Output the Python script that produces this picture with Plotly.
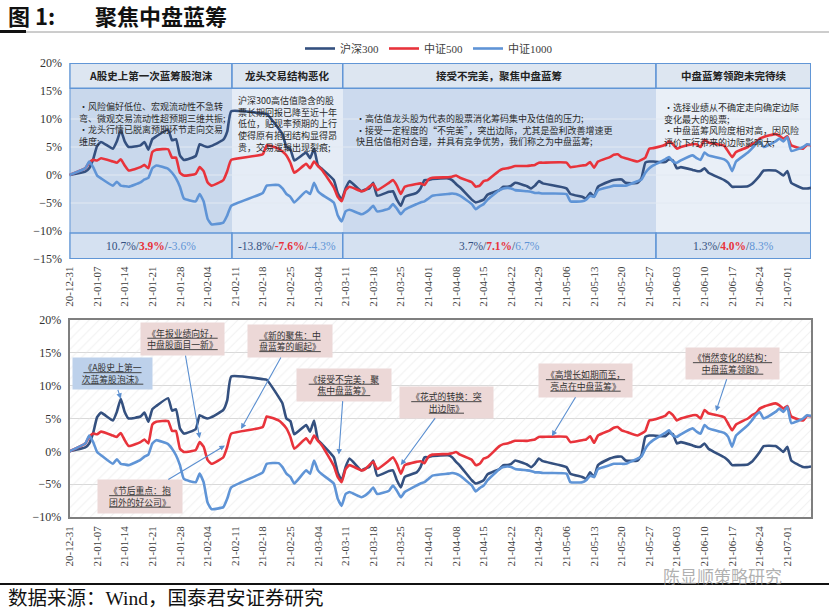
import pandas as pd
import plotly.graph_objects as go

W, H = 829, 611

# ---------------- data ----------------
dates = [
    "2020-12-31",
    "2021-01-04", "2021-01-05", "2021-01-06", "2021-01-07", "2021-01-08",
    "2021-01-11", "2021-01-12", "2021-01-13", "2021-01-14", "2021-01-15",
    "2021-01-18", "2021-01-19", "2021-01-20", "2021-01-21", "2021-01-22",
    "2021-01-25", "2021-01-26", "2021-01-27", "2021-01-28", "2021-01-29",
    "2021-02-01", "2021-02-02", "2021-02-03", "2021-02-04", "2021-02-05",
    "2021-02-08", "2021-02-09", "2021-02-10",
    "2021-02-18", "2021-02-19",
    "2021-02-22", "2021-02-23", "2021-02-24", "2021-02-25", "2021-02-26",
    "2021-03-01", "2021-03-02", "2021-03-03", "2021-03-04", "2021-03-05",
    "2021-03-08", "2021-03-09", "2021-03-10", "2021-03-11", "2021-03-12",
    "2021-03-15", "2021-03-16", "2021-03-17", "2021-03-18", "2021-03-19",
    "2021-03-22", "2021-03-23", "2021-03-24", "2021-03-25", "2021-03-26",
    "2021-03-29", "2021-03-30", "2021-03-31", "2021-04-01", "2021-04-02",
    "2021-04-06", "2021-04-07", "2021-04-08", "2021-04-09",
    "2021-04-12", "2021-04-13", "2021-04-14", "2021-04-15", "2021-04-16",
    "2021-04-19", "2021-04-20", "2021-04-21", "2021-04-22", "2021-04-23",
    "2021-04-26", "2021-04-27", "2021-04-28", "2021-04-29", "2021-04-30",
    "2021-05-06", "2021-05-07",
    "2021-05-10", "2021-05-11", "2021-05-12", "2021-05-13", "2021-05-14",
    "2021-05-17", "2021-05-18", "2021-05-19", "2021-05-20", "2021-05-21",
    "2021-05-24", "2021-05-25", "2021-05-26", "2021-05-27", "2021-05-28",
    "2021-05-31", "2021-06-01", "2021-06-02", "2021-06-03", "2021-06-04",
    "2021-06-07", "2021-06-08", "2021-06-09", "2021-06-10", "2021-06-11",
    "2021-06-15", "2021-06-16", "2021-06-17", "2021-06-18",
    "2021-06-21", "2021-06-22", "2021-06-23", "2021-06-24", "2021-06-25",
    "2021-06-28", "2021-06-29", "2021-06-30", "2021-07-01", "2021-07-02",
    "2021-07-05", "2021-07-06", "2021-07-07",
]

hs300 = [
    0.0,
    0.6, 1.2, 2.8, 5.2, 5.9,
    4.7, 6.0, 8.0, 6.0, 5.0,
    5.3, 5.9, 4.5, 6.4, 6.9,
    8.1, 6.2, 6.4, 3.5, 2.7,
    3.4, 5.5, 5.2, 5.0, 5.2,
    6.3, 7.8, 11.4,
    11.0, 10.9,
    8.3, 7.3, 5.0, 4.6, 2.6,
    4.0, 3.0, 4.7, 1.7, 1.1,
    -0.9, -3.2, -4.4, -2.4, -1.1,
    -2.9, -2.6, -2.4, -1.4, -3.7,
    -3.0, -2.9, -4.4, -5.5, -3.9,
    -3.2, -2.4, -0.9, -0.9, -0.7,
    -0.6, -0.9, -1.6, -2.2,
    -4.4, -4.9, -4.7, -4.4, -3.5,
    -2.7, -2.1, -2.1, -1.9, -1.4,
    -2.0, -2.4, -1.9, -1.1, -1.5,
    -2.4, -3.4,
    -3.9, -4.2, -3.2, -3.9, -2.1,
    -1.1, -0.9, -0.8, -0.8, -1.4,
    -1.4, -0.6, 2.2, 2.4, 2.4,
    2.3, 2.8, 2.6, 1.2, 1.4,
    0.9, 0.7, 0.7, 1.2, 0.4,
    -0.9, -1.4, -2.1, -2.1,
    -2.0, -1.6, -0.9, -0.1, 0.8,
    0.8, 0.4, -0.1, 0.7, -1.4,
    -2.4, -2.4, -2.3,
]

zz500 = [
    0.0,
    1.2, 2.2, 2.7, 2.6, 3.0,
    2.4, 2.2, 2.8, 1.7, 0.8,
    1.4, 1.8, 1.2, 4.1, 4.5,
    4.6, 3.1, 3.1, 0.4, -0.1,
    0.2, 1.4, 0.7, -1.3, -1.9,
    -0.9, 0.7, 2.7,
    3.7, 5.3,
    4.7, 4.2, 3.5, 2.2, 0.4,
    2.0, 1.2, 2.4, 1.6, 0.9,
    -2.2, -3.9, -4.7, -2.7, -2.1,
    -2.9, -2.7, -2.1, -1.6, -2.7,
    -1.4, -0.9, -1.9, -3.4, -2.1,
    -1.6, -1.5, -1.8, -0.8, -0.5,
    -0.4, -0.3, -0.1, -0.5,
    -1.3, -2.1, -1.9, -1.1, -0.9,
    0.8, 1.1, 1.2, 1.4, 1.6,
    1.6, 1.7, 1.8, 2.2, 2.2,
    2.2, 1.4,
    1.7, 1.8, 2.3, 1.3, 2.4,
    3.2, 3.6, 3.7, 3.2, 3.0,
    2.4, 2.7, 3.1, 4.7, 4.8,
    5.4, 6.0, 5.5, 4.7, 5.0,
    5.5, 5.5, 5.0, 6.3, 5.8,
    5.2, 4.2, 3.2, 4.1,
    5.0, 5.5, 5.8, 6.5, 6.8,
    7.3, 7.0, 6.5, 6.9, 5.3,
    4.7, 5.4, 5.3,
]

zz1000 = [
    0.0,
    1.2, 2.4, 1.4, -0.1, -0.6,
    -1.9, -1.2, -1.9, -2.0, -2.1,
    -1.3, -0.8, -0.5, 1.2, 1.7,
    1.1, 0.4, -0.6, -2.1, -4.2,
    -4.7, -3.4, -4.7, -7.8, -8.8,
    -8.5, -7.2, -5.5,
    -3.2, -1.9,
    -1.8, -2.4, -3.4, -3.9, -4.9,
    -2.9, -3.4, -1.4, -2.9, -3.5,
    -4.9, -7.2, -8.3, -6.5, -6.2,
    -7.0, -6.7, -6.2, -5.5, -6.5,
    -6.0, -5.2, -6.0, -7.0, -6.2,
    -5.2, -4.9, -4.7, -4.2, -3.7,
    -3.4, -3.3, -3.4, -3.7,
    -5.2, -6.1, -5.6, -5.2, -4.4,
    -2.7, -2.4, -2.3, -2.4, -2.7,
    -2.9, -3.0, -3.2, -3.2, -3.3,
    -3.4, -4.7,
    -4.7, -4.4, -3.7, -3.9, -2.7,
    -2.1, -1.9, -1.9, -1.9, -1.9,
    -1.1, -0.8, 0.4, 1.2, 1.7,
    2.8, 3.2, 2.4, 2.2, 2.6,
    3.5, 3.0, 2.7, 4.0, 3.5,
    2.8, 2.2, 0.7, 2.4,
    4.0, 4.7, 5.5, 6.0, 5.0,
    6.0, 6.5, 6.0, 6.8, 4.3,
    5.0, 5.5, 5.4,
]

series_names = ["沪深300", "中证500", "中证1000"]
series_values = [hs300, zz500, zz1000]

tick_labels = [
    "20-12-31", "21-01-07", "21-01-14", "21-01-21", "21-01-28", "21-02-04",
    "21-02-11", "21-02-18", "21-02-25", "21-03-04", "21-03-11", "21-03-18",
    "21-03-25", "21-04-01", "21-04-08", "21-04-15", "21-04-22", "21-04-29",
    "21-05-06", "21-05-13", "21-05-20", "21-05-27", "21-06-03", "21-06-10",
    "21-06-17", "21-06-24", "21-07-01",
]
tick_vals = ["20" + t for t in tick_labels]

phase_titles = ["A股史上第一次蓝筹股泡沫", "龙头交易结构恶化",
                "接受不完美，聚焦中盘蓝筹", "中盘蓝筹领跑未完待续"]
phase_starts = ["2020-12-31", "2021-02-10 05:00", "2021-03-10 07:00", "2021-05-28 17:00"]
phase_end = "2021-07-07"
phase_returns = [[10.7, 3.9, -3.6], [-13.8, -7.6, -4.3], [3.7, 7.1, 6.7], [1.3, 4.0, 8.3]]
phase_notes = [
    "•风险偏好低位、宏观流动性不急转<br>弯、微观交易流动性超预期三维共振;<br>•龙头行情已脱离预期环节走向交易<br>维度;",
    "沪深300高估值隐含的股<br>票长期回报已降至近十年<br>低位，贴现率预期的上行<br>使得原有抱团结构显得昂<br>贵，交易逻辑出现裂痕;",
    "•高估值龙头股为代表的股票消化筹码集中及估值的压力;<br>•接受一定程度的“不完美”，突出边际，尤其是盈利改善增速更<br>快且估值相对合理，并具有竞争优势，我们称之为中盘蓝筹;",
    "•选择业绩从不确定走向确定边际<br>变化最大的股票;<br>•中盘蓝筹风险度相对高，因风险<br>评价下行带来的边际影响大;",
]

callout_texts = [
    "《A股史上第一<br>次蓝筹股泡沫》",
    "《年报业绩向好，<br>中盘股面目一新》",
    "《新的聚焦：中<br>盘蓝筹的崛起》",
    "《接受不完美，聚<br>焦中盘蓝筹》",
    "《节后重点：抱<br>团外的好公司》",
    "《花式的转换：突<br>出边际》",
    "《高增长如期而至，<br>亮点在中盘蓝筹》",
    "《悄然变化的结构：<br>中盘蓝筹领跑》",
]
callout_dates = ["2021-01-13", "2021-02-02", "2021-02-12 12:00", "2021-03-09 07:00",
                 "2021-02-08 10:00", "2021-03-25", "2021-05-02 07:00", "2021-06-12 22:00"]
callout_values = [8.0, 2.0, 3.4, -0.5, 0.9, -2.1, 2.3, 6.1]

# ---------------- styles / layout positions ----------------
COLORS = ["#34507f", "#e8333b", "#5f94d6"]
BORDER = "#6196d6"
SERIF = "Liberation Serif, Noto Sans CJK SC, serif"
CJK = "Noto Sans CJK SC, Liberation Serif, sans-serif"
phase_fill = ["#c9d8ec", "#e5ecf6", "#ccdaee", "#e9eff7"]
callout_bg = ["#bdd1eb", "#ecd8d7", "#ecd8d7", "#ecd8d7", "#ecd8d7", "#ecd8d7", "#ecd8d7", "#ecd8d7"]
callout_off = [(-8, -25), (-17, -99), (49, -88), (5, -70), (-85, 51), (46, -63), (34, -56), (16, -48)]
callout_size = [(79, 31), (83, 32), (84, 32), (94, 32), (84, 33), (93, 31), (93, 33), (93, 31)]


def px(xp):
    return xp / W


def py(yp):
    return 1 - yp / H


XD = [px(69.5), px(811)]
TOP_DOM = [py(259), py(63)]
BOT_DOM = [py(517), py(320)]
TOP_RANGE = [-15, 20]
BOT_RANGE = [-10, 20]
HEAD_Y = 15.5
FOOT_Y = -10.35

fig = go.Figure()

# hatched background of the lower chart
fig.add_trace(go.Scatter(
    x=[dates[0], phase_end, phase_end, dates[0], dates[0]],
    y=[BOT_RANGE[0], BOT_RANGE[0], BOT_RANGE[1], BOT_RANGE[1], BOT_RANGE[0]],
    xaxis="x2", yaxis="y2", mode="lines", line=dict(width=0),
    fill="toself", fillcolor="rgba(0,0,0,0)",
    fillpattern=dict(shape="/", fgcolor="#e3e3e3", size=7, solidity=0.15),
    hoverinfo="skip", showlegend=False,
))

for name, vals, col in zip(series_names, series_values, COLORS):
    fig.add_trace(go.Scatter(
        x=dates, y=vals, name=name, mode="lines",
        line=dict(color=col, width=2.6, shape="spline", smoothing=0.4),
        xaxis="x", yaxis="y", showlegend=True, hoverinfo="skip",
    ))
for name, vals, col in zip(series_names, series_values, COLORS):
    fig.add_trace(go.Scatter(
        x=dates, y=vals, name=name, mode="lines",
        line=dict(color=col, width=2.6, shape="spline", smoothing=0.4),
        xaxis="x2", yaxis="y2", showlegend=False, hoverinfo="skip",
    ))

shapes = []
ends = phase_starts[1:] + [phase_end]
for i in range(4):
    x0, x1 = phase_starts[i], ends[i]
    shapes.append(dict(type="rect", xref="x", yref="y", x0=x0, x1=x1, y0=FOOT_Y, y1=HEAD_Y,
                       fillcolor=phase_fill[i], line=dict(width=0), layer="below"))
for v in [10, 5, 0, -5]:
    shapes.append(dict(type="line", xref="x", yref="y", x0=dates[0], x1=phase_end, y0=v, y1=v,
                       line=dict(color="#e2e9f2", width=1), layer="below"))
for i in range(4):
    x0, x1 = phase_starts[i], ends[i]
    shapes.append(dict(type="rect", xref="x", yref="y", x0=x0, x1=x1, y0=HEAD_Y, y1=TOP_RANGE[1],
                       fillcolor="#dde6f1", line=dict(color=BORDER, width=1.5), layer="below"))
    shapes.append(dict(type="rect", xref="x", yref="y", x0=x0, x1=x1, y0=TOP_RANGE[0], y1=FOOT_Y,
                       fillcolor="#d5e1f1", line=dict(color=BORDER, width=1.5), layer="below"))
shapes.append(dict(type="rect", xref="x", yref="y", x0=dates[0], x1=phase_end,
                   y0=TOP_RANGE[0], y1=TOP_RANGE[1], line=dict(color=BORDER, width=2), layer="below"))
# title rule and footer rule
shapes.append(dict(type="line", xref="paper", yref="paper", x0=0, x1=1, y0=py(32), y1=py(32),
                   line=dict(color="#9a9a9a", width=1)))
shapes.append(dict(type="line", xref="paper", yref="paper", x0=0, x1=px(26), y0=py(31.5), y1=py(31.5),
                   line=dict(color="#111111", width=3)))
shapes.append(dict(type="line", xref="paper", yref="paper", x0=0, x1=1, y0=py(584), y1=py(584),
                   line=dict(color="#111111", width=2)))

NB = "\u00a0"
ann = []
ann.append(dict(xref="paper", yref="paper", x=px(6), y=py(15), xanchor="left", yanchor="middle",
                text="<b>图" + NB + "1:" + NB * 8 + "聚焦中盘蓝筹</b>", showarrow=False,
                font=dict(family=CJK, size=22, color="#111111")))
ann.append(dict(xref="paper", yref="paper", x=px(6), y=py(598), xanchor="left", yanchor="middle",
                text="数据来源：Wind，国泰君安证券研究", showarrow=False,
                font=dict(family=SERIF, size=19.5, color="#111111")))
ann.append(dict(xref="paper", yref="paper", x=px(722), y=py(575), xanchor="center", yanchor="middle",
                text="陈显顺策略研究", showarrow=False,
                font=dict(family=CJK, size=17, color="rgba(150,150,150,0.75)")))

note_pos = [(77, 98), (236, 92), (354, 110), (662, 99)]
for i in range(4):
    mid = pd.Timestamp(phase_starts[i]) + (pd.Timestamp(ends[i]) - pd.Timestamp(phase_starts[i])) / 2
    ann.append(dict(xref="x", yref="y", x=mid, y=(HEAD_Y + TOP_RANGE[1]) / 2,
                    text="<b>" + phase_titles[i] + "</b>", showarrow=False,
                    font=dict(family=CJK, size=10.5, color="#222222")))
    a, b, c = phase_returns[i]
    rt = (f"<span style='color:{COLORS[0]}'>{a:.1f}%</span>/"
          f"<span style='color:{COLORS[1]}'><b>{b:.1f}%</b></span>/"
          f"<span style='color:{COLORS[2]}'>{c:.1f}%</span>")
    ann.append(dict(xref="x", yref="y", x=mid, y=(FOOT_Y + TOP_RANGE[0]) / 2,
                    text=rt, showarrow=False, font=dict(family=SERIF, size=11.5)))
    nx, ny = note_pos[i]
    ann.append(dict(xref="paper", yref="paper", x=px(nx), y=py(ny), xanchor="left", yanchor="top",
                    align="left", text=phase_notes[i], showarrow=False,
                    font=dict(family=CJK, size=9, color="#2a2a2a")))

for i in range(len(callout_texts)):
    w, h = callout_size[i]
    ax, ay = callout_off[i]
    ann.append(dict(xref="x2", yref="y2", x=callout_dates[i], y=callout_values[i],
                    ax=ax, ay=ay, axref="pixel", ayref="pixel",
                    text="<u>" + callout_texts[i] + "</u>", showarrow=True,
                    arrowhead=2, arrowsize=1, arrowwidth=1.1, arrowcolor="#5b8fd0", standoff=0,
                    bgcolor=callout_bg[i], width=w, height=h, borderpad=0,
                    font=dict(family=CJK, size=8.8, color="#333333")))

axis_font = dict(family=SERIF, size=11, color="#404040")
yfont = dict(family=SERIF, size=12, color="#333333")

fig.update_layout(
    width=W, height=H, margin=dict(l=0, r=0, t=0, b=0),
    paper_bgcolor="white", plot_bgcolor="rgba(0,0,0,0)",
    showlegend=True,
    legend=dict(orientation="h", x=px(300), y=py(34), xanchor="left", yanchor="top",
                font=dict(family=SERIF, size=11, color="#404040"), bgcolor="rgba(0,0,0,0)",
                itemwidth=30, traceorder="normal"),
    xaxis=dict(domain=XD, anchor="y", type="date", range=[dates[0], phase_end],
               tickmode="array", tickvals=tick_vals, ticktext=tick_labels, tickangle=-90,
               tickfont=axis_font, showgrid=False, zeroline=False, showline=False,
               ticks="outside", ticklen=2, tickcolor="rgba(0,0,0,0)", automargin=False),
    yaxis=dict(domain=TOP_DOM, anchor="x", range=TOP_RANGE, tickmode="linear", tick0=-15, dtick=5,
               ticksuffix="%", tickfont=yfont, showgrid=False, zeroline=False, showline=False,
               ticks="outside", ticklen=4, tickcolor="rgba(0,0,0,0)", automargin=False),
    xaxis2=dict(domain=XD, anchor="y2", type="date", range=[dates[0], phase_end],
                tickmode="array", tickvals=tick_vals, ticktext=tick_labels, tickangle=-90,
                tickfont=axis_font, showgrid=False, zeroline=False,
                showline=True, mirror=True, linecolor="#7f7f7f", linewidth=1.5,
                ticks="outside", ticklen=3, tickcolor="rgba(0,0,0,0)", automargin=False),
    yaxis2=dict(domain=BOT_DOM, anchor="x2", range=BOT_RANGE, tickmode="linear", tick0=-10, dtick=5,
                ticksuffix="%", tickfont=yfont, showgrid=True, gridcolor="#d9d9d9", gridwidth=1,
                zeroline=False, showline=True, mirror=True, linecolor="#7f7f7f", linewidth=1.5,
                ticks="outside", ticklen=4, tickcolor="rgba(0,0,0,0)", automargin=False),
    shapes=shapes, annotations=ann,
)

fig.write_html("out.html", config={"displayModeBar": False},
               post_script="document.body.style.margin='0px';document.body.style.padding='0px';")
